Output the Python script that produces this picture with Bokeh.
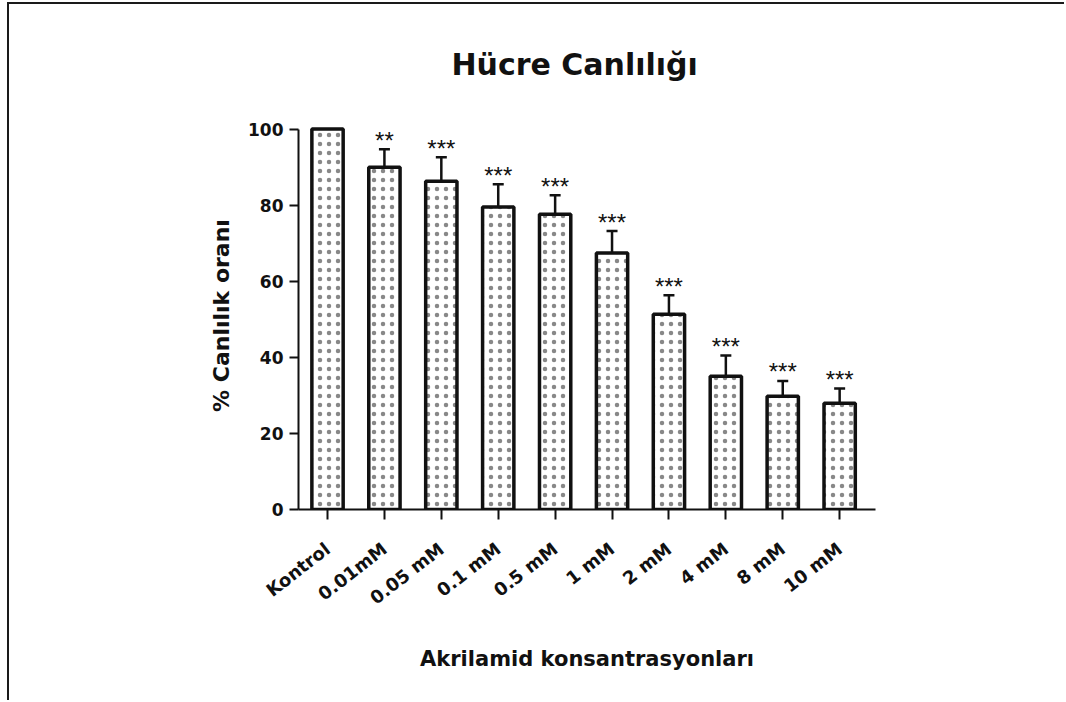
from bokeh.plotting import figure
from bokeh.models import ColumnDataSource, Range1d, FixedTicker, Whisker, TeeHead
from bokeh.embed import file_html
from bokeh.resources import INLINE
from bokeh.core.properties import value

# ---- data ----
categories = ["Kontrol", "0.01mM", "0.05 mM", "0.1 mM", "0.5 mM",
              "1 mM", "2 mM", "4 mM", "8 mM", "10 mM"]
viability = [100.0, 90.0, 86.3, 79.5, 77.6, 67.4, 51.3, 35.0, 29.8, 27.9]
error = [0.0, 4.7, 6.3, 6.0, 5.0, 5.8, 5.0, 5.5, 4.0, 3.9]
significance = ["", "**", "***", "***", "***", "***", "***", "***", "***", "***"]
y_ticks = [0, 20, 40, 60, 80, 100]

title_text = "Hücre Canlılığı"
x_title = "Akrilamid konsantrasyonları"
y_title = "% Canlılık oranı"

FONT = "DejaVu Sans"
STAR_FONT = "Liberation Sans"
INK = "#111111"

positions = list(range(len(categories)))
upper = [v + e for v, e in zip(viability, error)]

bar_src = ColumnDataSource(dict(x=positions, top=viability, upper=upper,
                                stars=significance))
err_idx = [i for i, e in enumerate(error) if e > 0]
err_src = ColumnDataSource(dict(x=[positions[i] for i in err_idx],
                                base=[viability[i] for i in err_idx],
                                upper=[upper[i] for i in err_idx]))

p = figure(width=1057, height=698,
           x_range=Range1d(-0.51, 9.63), y_range=Range1d(0, 102),
           output_backend="svg", toolbar_location=None,
           min_border_left=289, min_border_right=191,
           min_border_top=117, min_border_bottom=193)

p.styles = {"border-top": "2px solid #1a1a1a", "border-left": "2px solid #1a1a1a",
            "margin-left": "7px", "margin-top": "2px"}

p.background_fill_color = "white"
p.border_fill_color = "white"
p.outline_line_color = None
p.grid.visible = False

# bars with dotted fill
p.vbar(x="x", top="top", bottom=0, width=0.55, source=bar_src,
       fill_color="white", line_color=INK, line_width=3.5,
       hatch_pattern="dot", hatch_color="#888888", hatch_scale=9, hatch_weight=0.8)

# upper error bars
p.add_layout(Whisker(base="x", lower="base", upper="upper", source=err_src,
                     dimension="height", line_color=INK, line_width=2.5,
                     lower_head=None,
                     upper_head=TeeHead(size=11, line_color=INK, line_width=2.5)))

# significance stars
p.text(x="x", y="upper", text="stars", source=bar_src,
       text_align="center", text_baseline="middle",
       text_font=value(STAR_FONT), text_font_size="24px", text_color=INK,
       y_offset=-9)

# title
p.title.text = title_text
p.title.align = "left"
p.title.offset = 153
p.title.text_font = FONT
p.title.text_font_size = "30px"
p.title.text_font_style = "bold"
p.title.text_color = INK
p.title.standoff = 80

# axes
for ax in (p.xaxis, p.yaxis):
    ax.axis_line_width = 2
    ax.axis_line_color = INK
    ax.major_tick_line_width = 2
    ax.major_tick_line_color = INK
    ax.minor_tick_line_color = None
    ax.major_tick_in = 0
    ax.major_label_text_font = FONT
    ax.major_label_text_font_style = "bold"
    ax.major_label_text_color = INK
    ax.axis_label_text_font = FONT
    ax.axis_label_text_font_style = "bold"
    ax.axis_label_text_color = INK

p.yaxis.ticker = FixedTicker(ticks=y_ticks)
p.yaxis.bounds = (0, 100)
p.yaxis.major_tick_out = 9
p.yaxis.major_label_standoff = 6
p.yaxis.major_label_text_font_size = "17px"
p.yaxis.axis_label = y_title
p.yaxis.axis_label_text_font_size = "22px"
p.yaxis.axis_label_standoff = 11

p.xaxis.ticker = FixedTicker(ticks=positions)
p.xaxis.major_label_overrides = {i: c for i, c in zip(positions, categories)}
p.xaxis.major_tick_out = 10
p.xaxis.major_label_standoff = 27
p.xaxis.major_label_orientation = 0.66
p.xaxis.major_label_text_font_size = "18px"
p.xaxis.axis_label = x_title
p.xaxis.axis_label_text_font_size = "21px"
p.xaxis.axis_label_standoff = 27

open("out.html", "w").write(file_html(p, INLINE))
